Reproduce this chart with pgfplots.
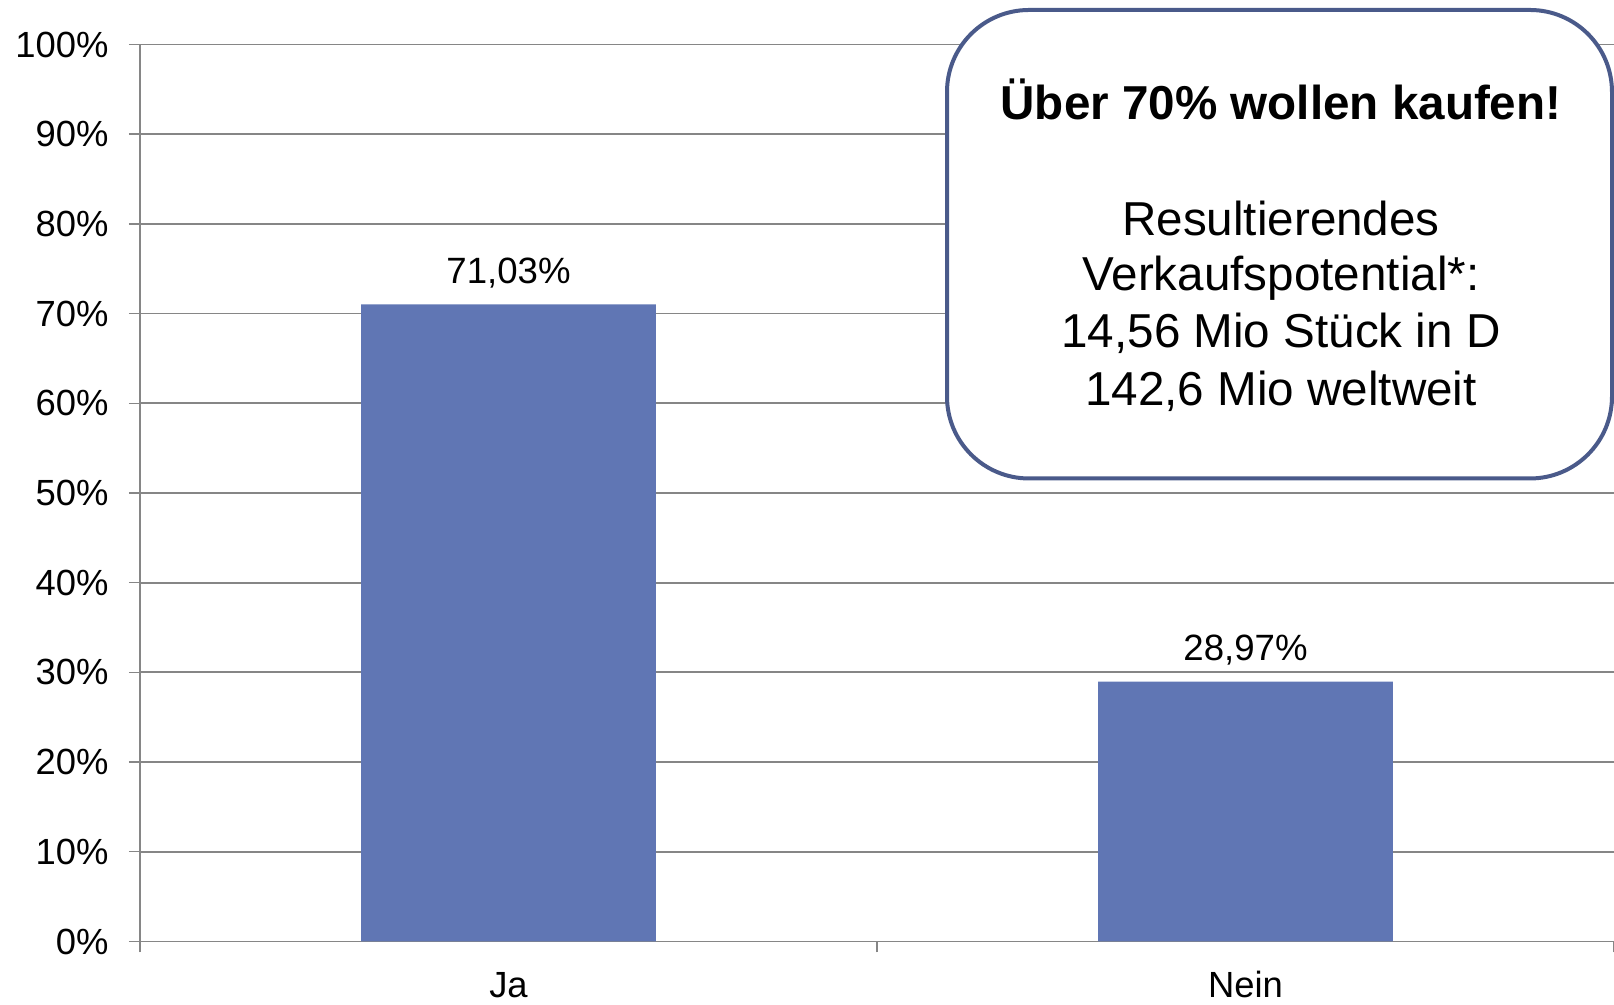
\documentclass[border=0pt]{standalone}
\usepackage{pgfplots}
\pgfplotsset{compat=1.18}
\usepackage{fontspec}
\setmainfont{Liberation Sans}
\definecolor{barblue}{RGB}{96,118,180}
\definecolor{gridgray}{RGB}{134,134,134}
\definecolor{boxblue}{RGB}{74,90,138}
\begin{document}
\begin{tikzpicture}
\useasboundingbox (-70pt,-31.5pt) rectangle (737pt,470.75pt);
\begin{axis}[
  at={(0pt,0pt)}, anchor=south west,
  scale only axis,
  width=737pt, height=448.5pt,
  xmin=0.5, xmax=2.5,
  ymin=0, ymax=100,
  axis x line=bottom, axis y line=left,
  axis line style={gridgray, line width=0.9pt, -},
  xtick={0.5,1.5,2.5},
  x tick label as interval,
  xticklabels={Ja,Nein},
  ytick={0,10,...,100},
  yticklabels={0\%,10\%,20\%,30\%,40\%,50\%,60\%,70\%,80\%,90\%,100\%},
  tick align=outside,
  major tick length=5.5pt,
  tick style={gridgray, line width=0.7pt},
  ymajorgrids,
  grid style={gridgray, line width=0.9pt},
  ticklabel style={font=\fontsize{18.2}{20}\selectfont, text=black},
  yticklabel style={anchor=east, inner sep=0pt, xshift=-10pt},
  xticklabel style={anchor=base, inner sep=0pt, yshift=-22.3pt},
  ybar, bar width=0.4,
  point meta=explicit symbolic,
  nodes near coords,
  nodes near coords style={font=\fontsize{18.3}{20}\selectfont, anchor=base, inner sep=0pt, yshift=10.5pt},
]
\addplot[fill=barblue, draw=none] coordinates {(1,71.03) [71,03\%] (2,28.97) [28,97\%]};
\end{axis}
\draw[boxblue, line width=2pt, fill=white, rounded corners=41pt] (403.5pt,231.5pt) rectangle (736pt,465.75pt);
\begin{scope}[every node/.style={anchor=base, inner sep=0pt, font=\fontsize{23.8}{28}\selectfont}]
\node at (570.5pt,411pt) {\bfseries Über 70\% wollen kaufen!};
\node at (570.5pt,353pt) {Resultierendes};
\node at (570.5pt,325.5pt) {Verkaufspotential*:};
\node at (570.5pt,297pt) {14,56 Mio Stück in D};
\node at (570.5pt,267.75pt) {142,6 Mio weltweit};
\end{scope}
\end{tikzpicture}
\end{document}
